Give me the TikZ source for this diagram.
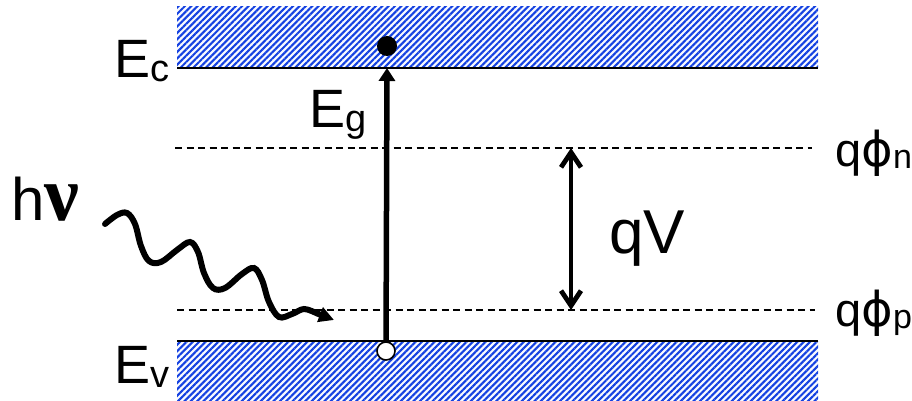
\documentclass[tikz,border=0pt]{standalone}
\usepackage{fontspec}
\setmainfont{Liberation Sans}
\newfontfamily\nufont{Liberation Serif}
\newfontfamily\phifont{DejaVu Sans}
\usetikzlibrary{arrows.meta,patterns.meta}
\definecolor{bandblue}{RGB}{20,65,225}
\definecolor{bandbg}{RGB}{248,250,255}
\tikzset{
  band/.style={fill=bandbg, postaction={pattern={Lines[angle=45,distance=4.5pt,line width=2.1pt]}, pattern color=bandblue}},
  edgeline/.style={line width=2pt},
  quasi/.style={dash pattern=on 7pt off 4.5pt, line width=1.3pt},
  lbl/.style={inner sep=0pt, anchor=base west},
  thick arrow/.style={line width=5.5pt, -{Triangle[width=16pt,length=13pt]}},
  dbl/.style={line width=4.8pt, {Straight Barb[length=15pt,width=20pt]}-{Straight Barb[length=15pt,width=20pt]}},
  wave/.style={line width=6pt, line cap=round},
  wavetip/.style={line width=6pt, -{Triangle[width=15pt,length=15pt]}},
}
\begin{document}
\begin{tikzpicture}[x=1pt,y=-1pt]
\useasboundingbox (0,0) rectangle (912,401);
% bands
\path[band] (177,7) rectangle (818,68);
\path[band] (177,341) rectangle (818,401);
\draw[edgeline] (177,68) -- (818,68);
\draw[edgeline] (177,341) -- (818,341);
% quasi-Fermi levels
\coordinate (qnL) at (175,148); \coordinate (qnR) at (812,148);
\coordinate (qpL) at (177,310); \coordinate (qpR) at (815,310);
\draw[quasi] (qnL) -- (qnR);
\draw[quasi] (qpL) -- (qpR);
% electron and hole
\node[circle, fill=black, minimum size=20pt, inner sep=0pt] (elec) at (387,46) {};
\coordinate (ectop) at (387,68);
\node[circle, draw=black, fill=white, line width=1.6pt, minimum size=18pt, inner sep=0pt] (hole) at (386,351) {};
\draw[thick arrow] (hole) -- (ectop);
% qV arrow
\coordinate (qvtop) at (571,148); \coordinate (qvbot) at (571,310);
\draw[dbl] (qvtop) -- (qvbot);
% photon
\coordinate (wstart) at (105,224);
\coordinate (wend) at (316,313);
\coordinate (wtip) at (334,320);
\draw[wave] plot[smooth, tension=0.6] coordinates {(105,224) (117,215) (127,213) (135,224) (141,246) (149,261) (161,262) (177,250) (190,242) (198,252) (204,273) (213,288) (225,288) (242,274) (254,268) (262,280) (269,302) (279,317) (292,314) (304,309) (316,313)};
\draw[wavetip] (wend) -- (wtip);
% labels
\node[lbl] (ec) at (114,78) {{\fontsize{54}{54}\selectfont E}{\fontsize{38}{38}\selectfont\raisebox{-4pt}{c}}};
\node[lbl] (ev) at (114,383) {{\fontsize{54}{54}\selectfont E}{\fontsize{38}{38}\selectfont\raisebox{-4pt}{v}}};
\node[lbl] (eg) at (309,128) {{\fontsize{54}{54}\selectfont E}{\fontsize{38}{38}\selectfont\raisebox{-4pt}{g}}};
\node[lbl] (hnu) at (11,220) {{\fontsize{60}{60}\selectfont h}{\fontsize{78}{78}\selectfont\nufont\bfseries ν}};
\node[lbl] (qv) at (609,253) {\fontsize{62}{62}\selectfont qV};
\node[lbl] (qphin) at (835,166) {{\fontsize{47}{47}\selectfont q}{\fontsize{48}{48}\selectfont\phifont ϕ}{\fontsize{34}{34}\selectfont\raisebox{-2pt}{n}}};
\node[lbl] (qphip) at (835,326) {{\fontsize{47}{47}\selectfont q}{\fontsize{48}{48}\selectfont\phifont ϕ}{\fontsize{34}{34}\selectfont\raisebox{-2pt}{p}}};
\end{tikzpicture}
\end{document}
